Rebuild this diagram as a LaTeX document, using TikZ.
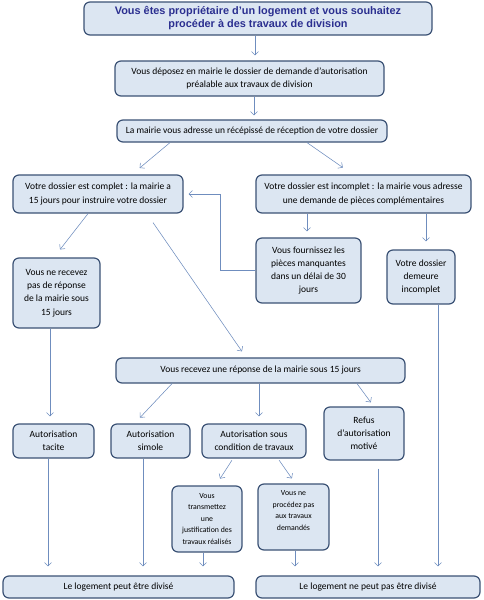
\documentclass[tikz,border=0pt]{standalone}
\usepackage{fontspec}
\setmainfont{Carlito}
\newfontfamily\titlefont{Liberation Sans}
\usetikzlibrary{arrows.meta}
\definecolor{boxfill}{HTML}{DCE6F2}
\definecolor{boxline}{HTML}{3B5275}
\definecolor{arrowc}{HTML}{6F8DBE}
\definecolor{titlec}{HTML}{2B2F90}
\tikzset{
  box/.style={draw=boxline, line width=1.2pt, fill=boxfill, rounded corners=6pt,
    align=center, inner sep=1pt, font=\fontsize{9.5}{13.2}\selectfont, text=black},
  smallbox/.style={box, font=\fontsize{7.8}{11.5}\selectfont},
  conn/.style={draw=arrowc, line width=0.55pt, -{Straight Barb[length=3.5pt,width=7pt]}},
}
\begin{document}
\begin{tikzpicture}[x=1pt,y=-1pt]
\useasboundingbox (0,0) rectangle (483,600);
% boxes
\node[box, minimum width=348, minimum height=33, font=\titlefont\bfseries\fontsize{10.9}{13}\selectfont, text=titlec] (top) at (258,18.5)
  {Vous êtes propriétaire d’un logement et vous souhaitez\\procéder à des travaux de division};
\node[box, minimum width=269, minimum height=35] (b2) at (249.5,78.5)
  {Vous déposez en mairie le dossier de demande d’autorisation\\préalable aux travaux de division};
\node[box, minimum width=270, minimum height=22] (b3) at (252,131)
  {La mairie vous adresse un récépissé de réception de votre dossier};
\node[box, minimum width=170, minimum height=38] (b4) at (98,194)
  {Votre dossier est complet : la mairie a\\15 jours pour instruire votre dossier};
\node[box, minimum width=215, minimum height=38] (b5) at (363.5,194)
  {Votre dossier est incomplet : la mairie vous adresse\\une demande de pièces complémentaires};
\node[box, minimum width=105, minimum height=65] (b6) at (308.5,270.5)
  {Vous fournissez les\\pièces manquantes\\dans un délai de 30\\jours};
\node[box, minimum width=68, minimum height=54] (b7) at (421,277)
  {Votre dossier\\demeure\\incomplet};
\node[box, minimum width=87, minimum height=70] (b8) at (56.5,293)
  {Vous ne recevez\\pas de réponse\\de la mairie sous\\15 jours};
\node[box, minimum width=289, minimum height=25] (b9) at (260.5,370.5)
  {Vous recevez une réponse de la mairie sous 15 jours};
\node[box, minimum width=81, minimum height=34] (tacite) at (53.5,441)
  {Autorisation\\tacite};
\node[box, minimum width=79, minimum height=34] (simple) at (150.5,441)
  {Autorisation\\simole};
\node[box, minimum width=104, minimum height=34] (cond) at (254,441)
  {Autorisation sous\\condition de travaux};
\node[box, minimum width=80, minimum height=53] (refus) at (364,433.5)
  {Refus\\d’autorisation\\motivé};
\node[smallbox, minimum width=70, minimum height=66] (trans) at (207,519)
  {Vous\\transmettez\\une\\justification des\\travaux réalisés};
\node[smallbox, minimum width=71, minimum height=66] (neproc) at (293.5,517)
  {Vous ne\\procédez pas\\aux travaux\\demandés\\[2pt]};
\node[box, minimum width=231, minimum height=22] (bl) at (118.5,587)
  {Le logement peut être divisé};
\node[box, minimum width=224, minimum height=22] (br) at (368,587)
  {Le logement ne peut pas être divisé};
% connectors
\draw[conn, shorten >=5pt] ([xshift=-3]top.south) -- ([xshift=5.5]b2.north);
\draw[conn, shorten >=4pt] ([xshift=4.5]b2.south) -- ([xshift=2]b3.north);
\draw[conn, shorten >=10pt] ([xshift=-82]b3.south) -- ([xshift=34]b4.north);
\draw[conn, shorten >=12pt] ([xshift=55]b3.south) -- ([xshift=-10.8]b5.north);
\draw[conn, shorten >=6pt] ([xshift=-56.5]b5.south) -- ([xshift=-1.5]b6.north);
\draw[conn, shorten >=8pt] ([xshift=62.5]b5.south) -- ([xshift=5]b7.north);
\draw[conn, shorten >=5pt] (b6.west) -- ++(-35,0) |- (b4.east);
\draw[conn, shorten >=10pt] ([xshift=-10]b4.south) -- ([xshift=-2.6]b8.north);
\draw[conn, shorten <=10.9pt, shorten >=7.3pt] ([xshift=48.8]b4.south) -- ([xshift=-14.4]b9.north);
\draw[conn, shorten >=7pt] ([xshift=-6.5]b8.south) -- ([xshift=-3.5]tacite.north);
\draw[conn, shorten >=9pt] ([xshift=17]b7.south) -- ([xshift=70]br.north);
\draw[conn, shorten >=8pt] ([xshift=-88.5]b9.south) -- ([xshift=-16]simple.north);
\draw[conn, shorten >=7pt] ([xshift=-1.5]b9.south) -- ([xshift=5]cond.north);
\draw[conn, shorten >=5pt] ([xshift=96.5]b9.south) -- ([xshift=9.8]refus.north);
\draw[conn, shorten >=9pt] ([xshift=-5.5]tacite.south) -- ([xshift=-70.5]bl.north);
\draw[conn, shorten >=9pt] ([xshift=-7.5]simple.south) -- ([xshift=24.5]bl.north);
\draw[conn, shorten <=2pt, shorten >=8pt] ([xshift=-21]cond.south) -- ([xshift=8.7]trans.north);
\draw[conn, shorten <=2pt, shorten >=6pt] ([xshift=24]cond.south) -- ([xshift=1.8]neproc.north);
\draw[conn, shorten >=9pt] ([xshift=-4]trans.south) -- ([xshift=84.5]bl.north);
\draw[conn, shorten >=9pt] ([xshift=1.5]neproc.south) -- ([xshift=-73]br.north);
\draw[conn, shorten <=8pt, shorten >=9pt] ([xshift=14]refus.south) -- ([xshift=10]br.north);
\end{tikzpicture}
\end{document}
